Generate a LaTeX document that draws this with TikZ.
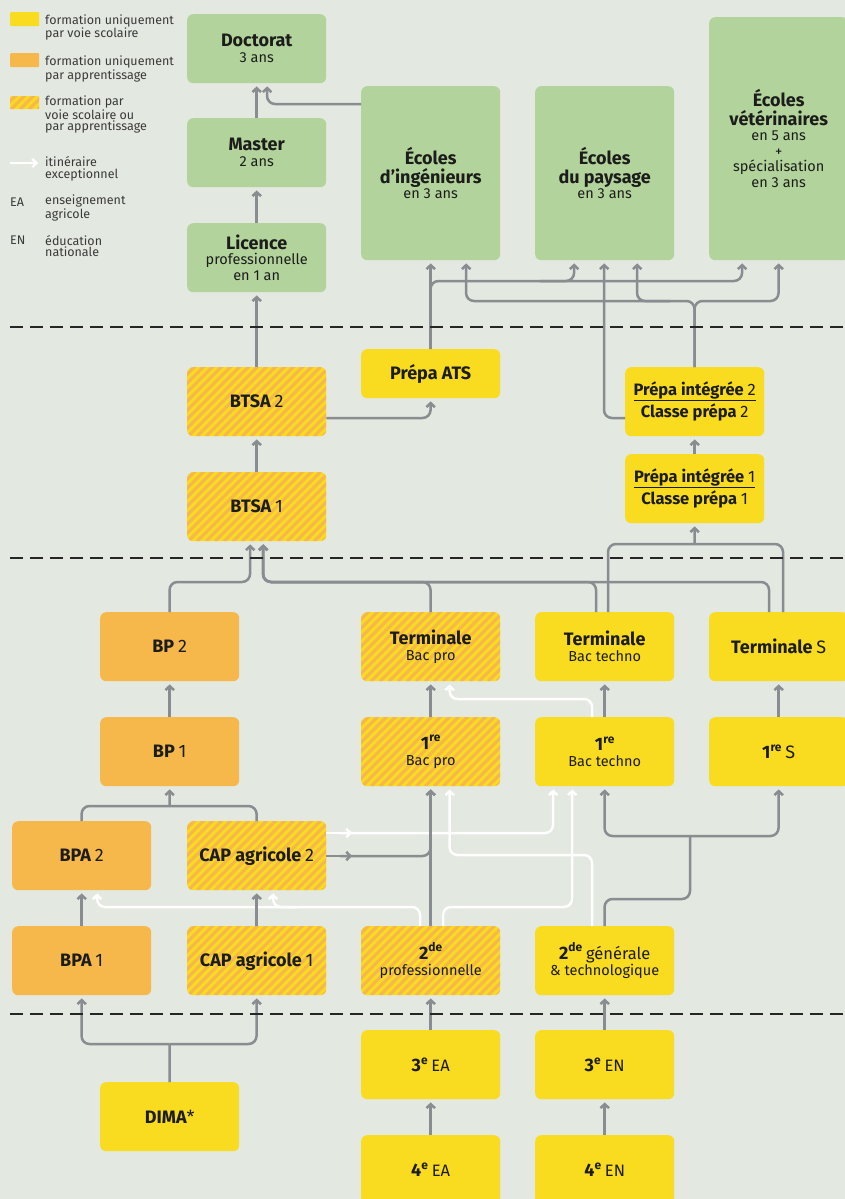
\documentclass[tikz,border=0pt]{standalone}
\usepackage{fontspec}
\setmainfont{Fira Sans}
\usetikzlibrary{arrows.meta}
\definecolor{bg}{HTML}{E3E8E0}
\definecolor{cgreen}{HTML}{B2D49C}
\definecolor{cyellow}{HTML}{F9DB1F}
\definecolor{corange}{HTML}{F6B84B}
\definecolor{cgray}{HTML}{898C90}
\definecolor{ctext}{HTML}{1C1C1A}
\definecolor{clegend}{HTML}{3A3A3A}
\definecolor{cdash}{HTML}{262626}
\newcommand\ttl[1]{{\fontsize{18}{16}\selectfont\bfseries #1}}
\newcommand\rg[1]{{\fontsize{18}{16}\selectfont #1}}
\newcommand\ttls[1]{{\fontsize{16.5}{16}\selectfont\bfseries #1}}
\newcommand\rgs[1]{{\fontsize{16.5}{16}\selectfont #1}}
\newcommand\exv[1]{\raisebox{0.42em}{\fontsize{12}{12}\selectfont\bfseries #1}}
\tikzset{
  box/.style={rounded corners=6pt, anchor=north west, minimum width=139pt, minimum height=69pt, inner sep=0pt, align=center, text=ctext, font=\fontsize{14.5}{16}\selectfont},
  gbox/.style={box, fill=cgreen},
  ybox/.style={box, fill=cyellow},
  obox/.style={box, fill=corange},
  hbox/.style={box, fill=cyellow, path picture={
     \foreach \k in {0,...,26}{
       \draw[corange, line width=3.2pt] ([xshift=\k*9pt-80pt]path picture bounding box.south west) -- ++(160pt,160pt);
     }}},
  conn/.style={draw=cgray, line width=2.5pt, rounded corners=8pt, -{Straight Barb[length=4pt,width=8.5pt]}, shorten >=3pt},
  wconn/.style={conn, draw=white},
  link/.style={draw=cgray, line width=2.5pt, rounded corners=8pt},
  sep/.style={draw=cdash, line width=2.8pt, dash pattern=on 13pt off 7pt},
  legtext/.style={anchor=west, align=left, inner sep=0pt, text=clegend, font=\fontsize{12.5}{11.5}\selectfont},
}
\begin{document}
\begin{tikzpicture}[x=1pt,y=-1pt]
\useasboundingbox (0,0) rectangle (845,1199);
\fill[bg] (0,0) rectangle (845,1199);

% ---------- nodes ----------
\node[gbox] (doct) at (187,14) {\ttl{Doctorat}\\3 ans};
\node[gbox] (master) at (187,118) {\ttl{Master}\\2 ans};
\node[gbox, font=\fontsize{14.5}{15.5}\selectfont] (lic) at (187,223) {\ttl{Licence}\\professionnelle\\en 1 an};
\node[gbox, minimum height=174pt, font=\fontsize{14.5}{15.5}\selectfont] (ing) at (361,86) {\ttl{Écoles}\\[3pt]\ttl{d’ingénieurs}\\en 3 ans};
\node[gbox, minimum height=174pt, font=\fontsize{14.5}{15.5}\selectfont] (pay) at (535,86) {\ttl{Écoles}\\[3pt]\ttl{du paysage}\\en 3 ans};
\node[gbox, minimum height=243pt, font=\fontsize{14.5}{15.5}\selectfont] (vet) at (709,17) {\ttl{Écoles}\\[3pt]\ttl{vétérinaires}\\en 5 ans\\+\\spécialisation\\en 3 ans};
\node[ybox, minimum height=49pt] (ats) at (361,349) {\ttl{Prépa ATS}};
\node[hbox] (btsa2) at (187,367) {\ttl{BTSA} \rg{2}};
\node[hbox] (btsa1) at (187,472) {\ttl{BTSA} \rg{1}};
\node[ybox] (pi2) at (625,367) {\underline{\ttls{Prépa intégrée} \rgs{2}}\\[2pt]\ttls{Classe prépa} \rgs{2}};
\node[ybox] (pi1) at (625,454) {\underline{\ttls{Prépa intégrée} \rgs{1}}\\[2pt]\ttls{Classe prépa} \rgs{1}};
\node[obox] (bp2) at (100,612) {\ttl{BP} \rg{2}};
\node[obox] (bp1) at (100,717) {\ttl{BP} \rg{1}};
\node[hbox] (tpro) at (361,612) {\ttl{Terminale}\\Bac pro};
\node[ybox] (ttech) at (535,612) {\ttl{Terminale}\\Bac techno};
\node[ybox] (ts) at (709,612) {\ttl{Terminale} \rg{S}};
\node[hbox] (ppro) at (361,717) {\ttl{1\exv{re}}\\Bac pro};
\node[ybox] (ptech) at (535,717) {\ttl{1\exv{re}}\\Bac techno};
\node[ybox] (ps) at (709,717) {\ttl{1\exv{re}} \rg{S}};
\node[obox] (bpa2) at (12,821) {\ttl{BPA} \rg{2}};
\node[hbox] (cap2) at (187,821) {\ttl{CAP agricole} \rg{2}};
\node[obox] (bpa1) at (12,926) {\ttl{BPA} \rg{1}};
\node[hbox] (cap1) at (187,926) {\ttl{CAP agricole} \rg{1}};
\node[hbox] (spro) at (361,926) {\ttl{2\exv{de}}\\professionnelle};
\node[ybox] (sgt) at (535,926) {\ttl{2\exv{de}} \rgs{générale}\\\& technologique};
\node[ybox] (dima) at (100,1082) {\ttl{DIMA}\rg{*}};
\node[ybox] (ea3) at (361,1030) {\ttl{3\exv{e}} \rgs{EA}};
\node[ybox] (en3) at (535,1030) {\ttl{3\exv{e}} \rgs{EN}};
\node[ybox] (ea4) at (361,1135) {\ttl{4\exv{e}} \rgs{EA}};
\node[ybox] (en4) at (535,1135) {\ttl{4\exv{e}} \rgs{EN}};

% ---------- legend ----------
\node[box, fill=cyellow, rounded corners=1pt, minimum width=29pt, minimum height=14pt] (sw1) at (10,12) {};
\node[box, fill=corange, rounded corners=1pt, minimum width=29pt, minimum height=14pt] (sw2) at (10,53) {};
\node[hbox, rounded corners=1pt, minimum width=29pt, minimum height=13pt] (sw3) at (10,96) {};
\coordinate (wa1) at (10,163);
\coordinate (wa2) at (38,163);
\draw[wconn, shorten >=0pt] (wa1) -- (wa2);
\node[legtext] (l1) at (45,27.5) {formation uniquement\\par voie scolaire};
\node[legtext] (l2) at (45,69) {formation uniquement\\par apprentissage};
\node[legtext] (l3) at (45,114.5) {formation par\\voie scolaire ou\\par apprentissage};
\node[legtext] (l4) at (45,169) {itinéraire\\exceptionnel};
\node[legtext] (lea) at (10,202) {EA};
\node[legtext] (l5) at (45,208) {enseignement\\agricole};
\node[legtext] (len) at (10,240) {EN};
\node[legtext] (l6) at (45,246) {éducation\\nationale};

% ---------- white connectors ----------
\draw[wconn] (340,833) -- (553,833) -- ([xshift=-51.5pt]ptech.south);
\draw[wconn, shorten >=0pt] ([yshift=-12pt]cap2.north east) -- (352,833);
\draw[wconn] ([xshift=-12.5pt]sgt.north) -- (592,855) -- (449.5,855) -- ([xshift=19pt]ppro.south);
\draw[wconn] ([xshift=12.5pt]spro.north) -- (443,907) -- (572,907) -- ([xshift=-32.5pt]ptech.south);
\draw[wconn] ([xshift=-10.5pt]spro.north) -- (420,907) -- (97,907) -- ([xshift=15.5pt]bpa2.south);
\draw[wconn] (300,907) -- (273,907) -- ([xshift=16.5pt]cap2.south);
\draw[wconn] ([xshift=-12.5pt]ptech.north) -- (592,699) -- (449.5,699) -- ([xshift=19pt]tpro.south);

% ---------- gray connectors: top ----------
\draw[conn] (master.north) -- (doct.south);
\draw[conn] ([yshift=-18pt]ing.north west) -- (267,104) -- ([xshift=10.5pt]doct.south);
\draw[conn] (lic.north) -- (master.south);
\draw[conn] (btsa2.north) -- (lic.south);
\draw[conn] (btsa1.north) -- (btsa2.south);
\draw[conn] ([yshift=-51pt]btsa2.north east) -- (430.5,418) -- (ats.south);
\draw[conn] (ats.north) -- (ing.south);
\draw[conn] (ats.north) -- (430.5,281) -- (742,281) -- ([xshift=-36.5pt]vet.south);
\draw[conn] (540,281) -- (574,281) -- ([xshift=-30.5pt]pay.south);
\draw[conn] ([yshift=-51pt]pi2.north west) -- (604,418) -- ([xshift=-0.5pt]pay.south);
\draw[conn] (pi2.north) -- (694.5,301) -- (466,301) -- ([xshift=35.5pt]ing.south);
\draw[conn] (pi2.north) -- (694.5,301) -- (778.5,301) -- (vet.south);
\draw[conn] (670,301) -- (637,301) -- ([xshift=32.5pt]pay.south);

% ---------- gray connectors: middle ----------
\draw[conn] (pi1.north) -- (pi2.south);
\draw[conn] (bp2.north) -- (169.5,582) -- (250,582) -- ([xshift=-6.5pt]btsa1.south);
\draw[conn] (tpro.north) -- (430.5,582) -- (263,582) -- ([xshift=6.5pt]btsa1.south);
\draw[conn] ([xshift=-8.5pt]ttech.north) -- (596,582) -- (263,582) -- ([xshift=6.5pt]btsa1.south);
\draw[conn] ([xshift=-9.5pt]ts.north) -- (769,582) -- (263,582) -- ([xshift=6.5pt]btsa1.south);
\draw[link] ([xshift=3.5pt]ttech.north) -- (608,544) -- (783,544) -- ([xshift=4.5pt]ts.north);
\coordinate (jpi) at (694.5,544);
\draw[conn] (jpi) -- (pi1.south);

% ---------- gray connectors: lower ----------
\draw[conn] (bp1.north) -- (bp2.south);
\draw[link] (bpa2.north) -- (81.5,806) -- (256.5,806) -- (cap2.north);
\coordinate (jbp) at (169.5,806);
\draw[conn] (jbp) -- (bp1.south);
\draw[conn] (bpa1.north) -- (bpa2.south);
\draw[conn] (cap1.north) -- (cap2.south);
\draw[conn] (340,856) -- (430.5,856) -- (ppro.south);
\draw[conn, shorten >=0pt] ([yshift=-35pt]cap2.north east) -- (352,856);
\draw[conn] (spro.north) -- (ppro.south);
\draw[conn] (ppro.north) -- (tpro.south);
\draw[conn] (ptech.north) -- (ttech.south);
\draw[conn] (ps.north) -- (ts.south);
\coordinate (jsg) at (690,836);
\draw[link] (sgt.north) -- (604.5,899) -- (690,899) -- (jsg);
\draw[conn] (jsg) -- (604.5,836) -- (ptech.south);
\draw[conn] (jsg) -- (778.5,836) -- (ps.south);
\draw[conn] (ea3.north) -- (spro.south);
\draw[conn] (en3.north) -- (sgt.south);
\draw[conn] (ea4.north) -- (ea3.south);
\draw[conn] (en4.north) -- (en3.south);
\coordinate (jdi) at (169.5,1044);
\draw[link] (dima.north) -- (jdi);
\draw[conn] (jdi) -- (81.5,1044) -- (bpa1.south);
\draw[conn] (jdi) -- (256.5,1044) -- (cap1.south);

% ---------- separators ----------
\draw[sep] (10,327) -- (845,327);
\draw[sep] (10,558) -- (845,558);
\draw[sep] (10,1014) -- (845,1014);
\end{tikzpicture}
\end{document}
